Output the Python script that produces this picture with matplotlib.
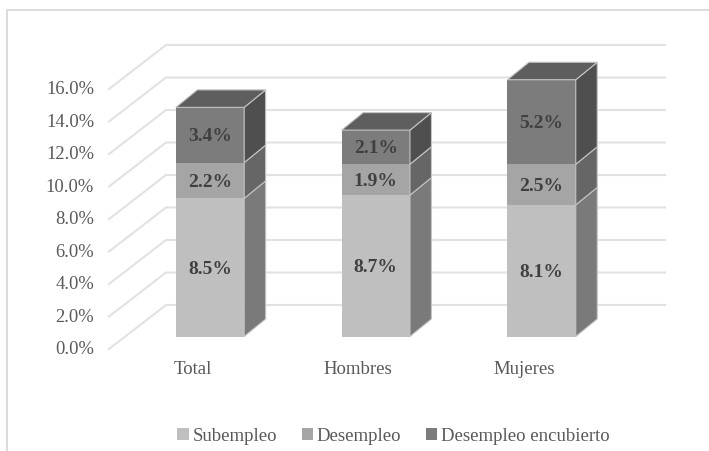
import numpy as np
import matplotlib
matplotlib.use('Agg')
import matplotlib.pyplot as plt
from matplotlib.patches import Polygon, Rectangle, Patch

plt.rcParams['font.family'] = ['Liberation Serif', 'DejaVu Serif']

categorias = ['Total', 'Hombres', 'Mujeres']
series = ['Subempleo', 'Desempleo', 'Desempleo encubierto']
subempleo = [8.5, 8.7, 8.1]
desempleo = [2.2, 1.9, 2.5]
encubierto = [3.4, 2.1, 5.2]
ticks = [0, 2, 4, 6, 8, 10, 12, 14, 16]

col_front = ['#bfbfbf', '#a5a5a5', '#7c7c7c']
col_side = ['#7a7a7a', '#666666', '#4f4f4f']
col_top = '#5e5e5e'
col_grid = '#e2e2e2'

# escala: 165.8 px por categoria, 16.25 px por punto porcentual
W, H = 709, 451
sx, sy = 165.8, 16.25
x0, y0 = 210.0, 336.5
def px(x): return (x - x0) / sx
def py(y): return (y0 - y) / sy

fig = plt.figure(figsize=(W / 100, H / 100), dpi=100)
ax = fig.add_axes([0, 0, 1, 1])
ax.set_xlim(px(0), px(W))
ax.set_ylim(py(H), py(0))
ax.axis('off')

# profundidad de la barra y de la pared
bw = 68.3 / sx
dx, dy = 21.5 / sx, 17.5 / sy
wall_x0, wall_x1 = px(166), px(665)
floor_x = px(109)
wall_dy = 31.5 / sy
floor_dy = -12.5 / sy

# marco: solo arriba e izquierda
ax.plot([px(7), px(7), px(W)], [py(H), py(10), py(10)], color='#dcdcdc', lw=1.4,
        solid_joinstyle='miter', zorder=0)

for t in ticks:
    ax.plot([floor_x, wall_x0, wall_x1], [t + floor_dy, t + wall_dy, t + wall_dy],
            color=col_grid, lw=1.5, solid_joinstyle='miter', zorder=1)
    ax.text(px(94), t + floor_dy - 0.06, '%.1f%%' % t, ha='right', va='center',
            fontsize=13.3, color='#595959')

edge = '#c4c4c4'
stack = np.array([subempleo, desempleo, encubierto])
for i, cat in enumerate(categorias):
    left, right = i - bw / 2, i + bw / 2
    bottom = 0
    for k in range(3):
        v = stack[k, i]
        top = bottom + v
        ax.add_patch(Rectangle((left, bottom), bw, v, fc=col_front[k], ec='none', zorder=3))
        ax.add_patch(Polygon([(right, bottom), (right + dx, bottom + dy), (right + dx, top + dy), (right, top)],
                             fc=col_side[k], ec=edge, lw=0.8, zorder=3))
        ax.text(i, bottom + v / 2 - 0.1, '%.1f%%' % v, ha='center', va='center', fontsize=14,
                fontweight='bold', color='#404040', zorder=5)
        bottom = top
    ax.add_patch(Polygon([(left, bottom), (left + dx, bottom + dy), (right + dx, bottom + dy), (right, bottom)],
                         fc=col_top, ec=edge, lw=0.8, zorder=3))
    ax.text(i - 17.5 / sx, py(370), cat, ha='center', va='center', fontsize=13.5, color='#595959')

handles = [Patch(fc=c, ec='none', label=s) for c, s in zip(col_front, series)]
ax.legend(handles=handles, ncol=3, frameon=False, loc='center', bbox_to_anchor=(393.5 / W, 1 - 436.5 / H),
          fontsize=13.5, labelcolor='#595959', handlelength=0.62, handleheight=0.62,
          handletextpad=0.2, columnspacing=1.29, borderpad=0, borderaxespad=0)

fig.savefig('out.png', dpi=100)
